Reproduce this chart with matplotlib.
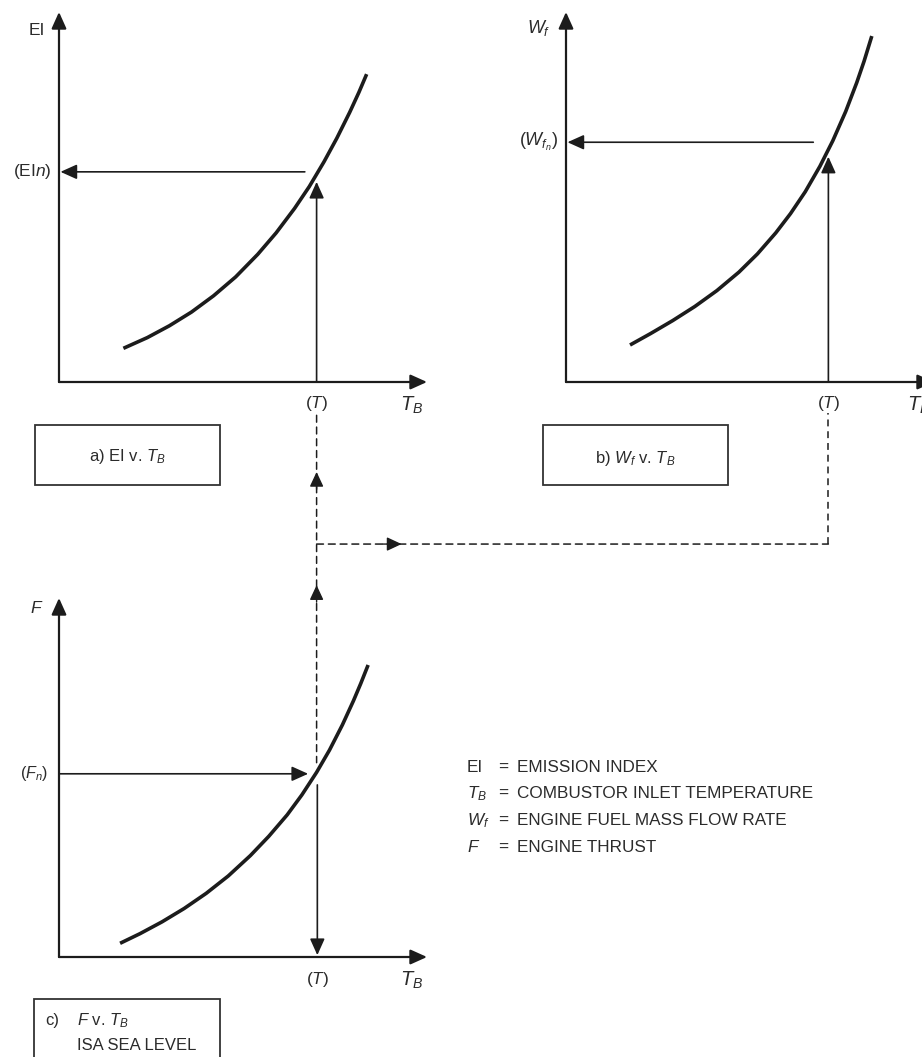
import matplotlib.pyplot as plt
from matplotlib.patches import Rectangle, ConnectionPatch

plt.rcParams['font.family'] = ['Liberation Sans', 'DejaVu Sans']
plt.rcParams['mathtext.fontset'] = 'custom'
plt.rcParams['mathtext.rm'] = 'Liberation Sans'
plt.rcParams['mathtext.it'] = 'Liberation Sans:italic'
plt.rcParams['mathtext.bf'] = 'Liberation Sans:bold'

# curves (arbitrary units, axis length ~10)
tb_a = [1.75, 2.4, 3.0, 3.6, 4.2, 4.8, 5.4, 5.9, 6.4, 6.8, 7.2, 7.55, 7.9, 8.15, 8.36]
ei = [0.91, 1.20, 1.52, 1.89, 2.33, 2.84, 3.45, 4.03, 4.69, 5.28, 5.95, 6.59, 7.29, 7.83, 8.32]
tb_b = [1.74, 2.3, 2.9, 3.5, 4.1, 4.7, 5.2, 5.7, 6.1, 6.5, 6.9, 7.25, 7.6, 7.9, 8.1, 8.31]
wf = [1.00, 1.31, 1.66, 2.04, 2.47, 2.97, 3.46, 4.03, 4.55, 5.14, 5.83, 6.52, 7.31, 8.09, 8.67, 9.35]
tb_c = [1.66, 2.2, 2.8, 3.4, 4.0, 4.6, 5.2, 5.7, 6.2, 6.6, 7.0, 7.35, 7.7, 8.0, 8.2, 8.4]
thrust = [0.37, 0.63, 0.95, 1.31, 1.72, 2.19, 2.74, 3.26, 3.84, 4.38, 4.99, 5.59, 6.27, 6.92, 7.39, 7.89]

# operating points
t_a, ei_n = 7.0, 5.68
t_b, wf_n = 7.13, 6.48
t_c, f_n = 7.02, 4.95

legend_syms = ['EI', r'$T_B$', r'$W_f$', r'$F$']
legend_desc = ['EMISSION INDEX', 'COMBUSTOR INLET TEMPERATURE',
               'ENGINE FUEL MASS FLOW RATE', 'ENGINE THRUST']

W, H = 922, 1057
LINE = '#1c1c1c'
TXT = '#2b2b2b'


def fx(x):
    return x / W


def fy(y):
    return 1 - y / H


def arrow(ax, start, end, lw=1.2, hl=1.0, hw=0.45, ms=10):
    ax.annotate('', xy=end, xytext=start, annotation_clip=False,
                arrowprops=dict(arrowstyle=f'-|>,head_length={hl},head_width={hw}',
                                mutation_scale=ms, lw=lw, color=LINE,
                                shrinkA=0, shrinkB=0))


fig = plt.figure(figsize=(W / 100, H / 100), dpi=100)
ax_a = fig.add_axes([fx(59), fy(382), 368 / W, 370 / H])
ax_b = fig.add_axes([fx(566), fy(382), 368 / W, 370 / H])
ax_c = fig.add_axes([fx(59), fy(957), 368 / W, 359 / H])
for ax, top in [(ax_a, 10), (ax_b, 10), (ax_c, 9.7)]:
    ax.set_xlim(0, 10)
    ax.set_ylim(0, top)
    ax.axis('off')
    arrow(ax, (0, 0), (10, 0), lw=1.6)
    arrow(ax, (0, 0), (0, top), lw=1.6)
    ax.text(9.59, -0.62, r'$T_B$', fontsize=14.5, color=TXT, ha='center', va='center')

curve_kw = dict(color=LINE, lw=2.6, solid_capstyle='butt', solid_joinstyle='round')

# a) EI v. TB
ax_a.plot(tb_a, ei, **curve_kw)
arrow(ax_a, (6.68, ei_n), (0.04, ei_n), lw=1.2)
arrow(ax_a, (t_a, 0), (t_a, 5.41), lw=1.2)
ax_a.text(-0.6, 9.5, 'EI', fontsize=12.5, color=TXT, ha='center', va='center')
ax_a.text(-0.2, ei_n, r'(EI$\it{n}$)', fontsize=12.5, color=TXT, ha='right', va='center')
ax_a.text(t_a, -0.57, r'($T$)', fontsize=12.5, color=TXT, ha='center', va='center')

# b) Wf v. TB
ax_b.plot(tb_b, wf, **curve_kw)
arrow(ax_b, (6.72, wf_n), (0.04, wf_n), lw=1.2)
arrow(ax_b, (t_b, 0), (t_b, 6.09), lw=1.2)
ax_b.text(-0.73, 9.57, r'$W_f$', fontsize=13, color=TXT, ha='center', va='center')
ax_b.text(-0.2, wf_n, r'($W_{f_n}$)', fontsize=13, color=TXT, ha='right', va='center')
ax_b.text(t_b, -0.57, r'($T$)', fontsize=12.5, color=TXT, ha='center', va='center')

# c) F v. TB
ax_c.plot(tb_c, thrust, **curve_kw)
arrow(ax_c, (0, f_n), (6.77, f_n), lw=1.2)
arrow(ax_c, (t_c, 4.65), (t_c, 0.05), lw=1.2)
ax_c.text(-0.6, 9.43, r'$F$', fontsize=12.5, color=TXT, ha='center', va='center')
ax_c.text(-0.3, f_n, r'($F_n$)', fontsize=11.5, color=TXT, ha='right', va='center')
ax_c.text(t_c, -0.62, r'($T$)', fontsize=12.5, color=TXT, ha='center', va='center')

# dashed link lines
dash = (0, (4.5, 3.2))
y_link = -4.38
con = ConnectionPatch(xyA=(t_a, -0.9), coordsA=ax_a.transData,
                      xyB=(t_a, 5.25), coordsB=ax_c.transData,
                      color=LINE, lw=1.1, linestyle=dash)
fig.add_artist(con)
con2 = ConnectionPatch(xyA=(t_a, y_link), coordsA=ax_a.transData,
                       xyB=(t_b, y_link), coordsB=ax_b.transData,
                       color=LINE, lw=1.1, linestyle=dash)
fig.add_artist(con2)
ax_b.plot([t_b, t_b], [y_link, -0.85], color=LINE, lw=1.1, linestyle=dash, clip_on=False)
arrow(ax_a, (t_a, -2.9), (t_a, -2.43), lw=1.0, hl=0.9, hw=0.42)
arrow(ax_a, (t_a, -5.95), (t_a, -5.49), lw=1.0, hl=0.9, hw=0.42)
arrow(ax_a, (8.8, y_link), (9.31, y_link), lw=1.0, hl=0.9, hw=0.42)

# caption boxes
for x0, y0, w, h in [(35, 425, 185, 60), (543, 425, 185, 60), (34, 999, 186, 70)]:
    fig.add_artist(Rectangle((fx(x0), fy(y0 + h)), w / W, h / H, transform=fig.transFigure,
                             fill=False, edgecolor='#333333', lw=1.3, clip_on=False))
fig.text(fx(127), fy(457), r'a) EI v. $T_B$', fontsize=12, color=TXT, ha='center', va='center')
fig.text(fx(635), fy(458), r'b) $W_f$ v. $T_B$', fontsize=12, color=TXT, ha='center', va='center')
fig.text(fx(45), fy(1021), 'c)', fontsize=12, color=TXT, ha='left', va='center')
fig.text(fx(77), fy(1021), r'$F$ v. $T_B$', fontsize=12, color=TXT, ha='left', va='center')
fig.text(fx(77), fy(1045), 'ISA SEA LEVEL', fontsize=12, color=TXT, ha='left', va='center')

# key
for i, (s, d) in enumerate(zip(legend_syms, legend_desc)):
    yy = 767 + i * 26.7
    fig.text(fx(467), fy(yy), s, fontsize=12.3, color=TXT, ha='left', va='center')
    fig.text(fx(503), fy(yy), '=', fontsize=12.3, color=TXT, ha='center', va='center')
    fig.text(fx(517), fy(yy), d, fontsize=12.3, color=TXT, ha='left', va='center')

fig.savefig('out.png', dpi=100, facecolor='white')
